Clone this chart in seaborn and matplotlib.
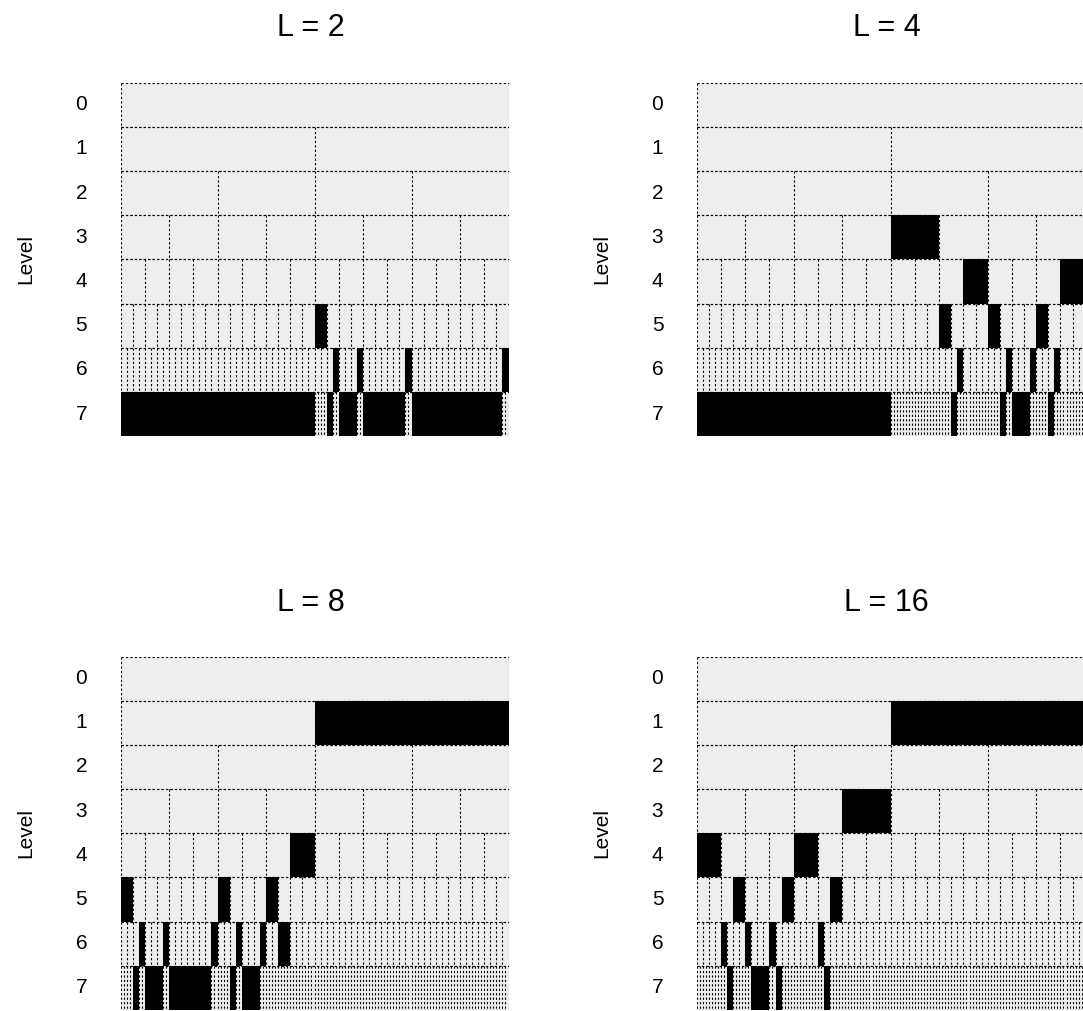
import numpy as np
import pandas as pd
import matplotlib
matplotlib.use("Agg")
import matplotlib.pyplot as plt
import seaborn as sns
from matplotlib.colors import ListedColormap

sns.set_theme(style="white")
plt.rcParams["font.family"] = ["Liberation Sans", "DejaVu Sans"]

level_labels = ["0", "1", "2", "3", "4", "5", "6", "7"]
panel_titles = ["L = 2", "L = 4", "L = 8", "L = 16"]

# black (selected) cells: (level, first index, last index)
black_L2 = [(5, 16, 16), (6, 35, 35), (6, 39, 39), (6, 47, 47), (6, 63, 63),
            (7, 0, 63), (7, 68, 69), (7, 72, 77), (7, 80, 93), (7, 96, 125)]
black_L4 = [(3, 4, 4), (4, 11, 11), (4, 15, 15), (5, 20, 20), (5, 24, 24), (5, 28, 28),
            (6, 43, 43), (6, 51, 51), (6, 55, 55), (6, 59, 59),
            (7, 0, 63), (7, 84, 85), (7, 100, 101), (7, 104, 109), (7, 116, 117)]
black_L8 = [(1, 1, 1), (4, 7, 7), (5, 0, 0), (5, 8, 8), (5, 12, 12),
            (6, 3, 3), (6, 7, 7), (6, 15, 15), (6, 19, 19), (6, 23, 23), (6, 26, 27),
            (7, 4, 5), (7, 8, 13), (7, 16, 29), (7, 36, 37), (7, 40, 45)]
black_L16 = [(1, 1, 1), (3, 3, 3), (4, 0, 0), (4, 4, 4), (5, 3, 3), (5, 7, 7), (5, 11, 11),
             (6, 4, 4), (6, 8, 8), (6, 12, 12), (6, 20, 20),
             (7, 10, 11), (7, 18, 23), (7, 26, 27), (7, 42, 43)]
panel_black = [black_L2, black_L4, black_L8, black_L16]

n_lev = len(level_labels)
width = 2 ** (n_lev - 1)

W, H = 1083, 1011
fig = plt.figure(figsize=(W / 100, H / 100), dpi=100)

# panel positions in pixels (left, top)
ax_w, ax_h = 388, 353.5
pos = [(120.5, 82.7), (696.7, 82.7), (120.5, 656.5), (696.7, 656.5)]
title_base = [36, 36, 611, 611]

for p in range(4):
    left, top = pos[p]
    ax = fig.add_axes([left / W, 1 - (top + ax_h) / H, ax_w / W, ax_h / H])

    mat = np.zeros((n_lev, width))
    for lev, a, b in panel_black[p]:
        span = 2 ** (n_lev - 1 - lev)
        mat[lev, a * span:(b + 1) * span] = 1
    df = pd.DataFrame(mat, index=level_labels)

    sns.heatmap(df, ax=ax, cmap=ListedColormap(["#eeeeee", "black"]), vmin=0, vmax=1,
                cbar=False, xticklabels=False, yticklabels=level_labels)

    # dotted cell outlines
    for lev in range(n_lev):
        span = 2 ** (n_lev - 1 - lev)
        xs = np.arange(0, width + 1, span)
        ax.vlines(xs, lev, lev + 1, colors="black", linewidth=0.8,
                  linestyles=(0, (2, 2)))
        ax.hlines([lev, lev + 1], 0, width, colors="black", linewidth=0.8,
                  linestyles=(0, (2, 2)))
    ax.set_xlim(0, width)
    ax.set_ylim(n_lev, 0)

    ax.tick_params(axis="y", length=0, pad=24, labelsize=15, labelcolor="black")
    ax.set_yticklabels(level_labels, rotation=0)
    ax.set_ylabel("Level", fontsize=15, color="black")
    ax.yaxis.set_label_coords(-0.22, 0.5)
    for s in ax.spines.values():
        s.set_visible(False)

    fig.text((left + 190) / W, 1 - title_base[p] / H, panel_titles[p],
             ha="center", va="baseline", fontsize=22, color="black")

fig.savefig("out.png", dpi=100)
